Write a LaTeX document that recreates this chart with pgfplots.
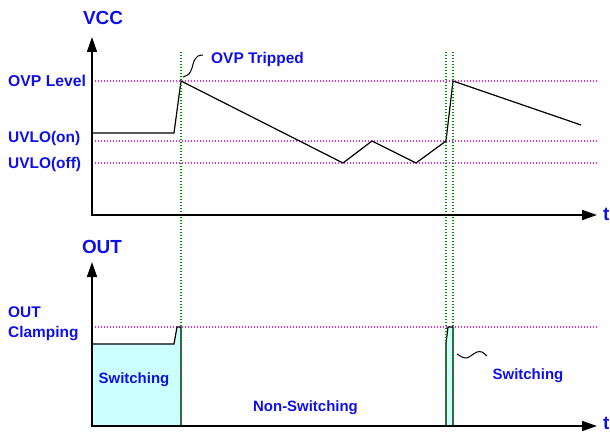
\documentclass[border=0pt]{standalone}
\usepackage{pgfplots}
\pgfplotsset{compat=1.18}
\usepackage{fontspec}
\setmainfont{Liberation Sans}
\usetikzlibrary{arrows.meta}
\definecolor{lblue}{RGB}{15,15,235}
\definecolor{mag}{RGB}{230,40,230}
\definecolor{grn}{RGB}{0,140,0}
\definecolor{cyanfill}{RGB}{204,255,255}
\tikzset{lab/.style={inner sep=0pt, text=lblue, font=\bfseries\fontsize{15.5}{18}\selectfont},
         big/.style={inner sep=0pt, text=lblue, font=\bfseries\fontsize{19}{22}\selectfont}}
\begin{document}
\begin{tikzpicture}
\begin{axis}[at={(0,0)},anchor=south west, scale only axis, width=610bp, height=433bp,
  xmin=0,xmax=610,ymin=0,ymax=433, y dir=reverse, hide axis, clip=false]
% reference levels
\addplot[mag, line width=1.2bp, dash pattern=on 1.2bp off 1.8bp] coordinates {(92,81) (598,81)};
\addplot[mag, line width=1.2bp, dash pattern=on 1.2bp off 1.8bp] coordinates {(92,141) (598,141)};
\addplot[mag, line width=1.2bp, dash pattern=on 1.2bp off 1.8bp] coordinates {(92,163) (598,163)};
\addplot[mag, line width=1.2bp, dash pattern=on 1.2bp off 1.8bp] coordinates {(92,327) (598,327)};
% OUT pulses
\addplot[fill=cyanfill, draw=black, line width=1.2bp] coordinates {(92,426) (92,344) (174,344) (177,327) (181,327) (181,426)} -- cycle;
\addplot[fill=cyanfill, draw=black, line width=1.2bp] coordinates {(446,426) (446,343) (448,327) (453,327) (453,426)} -- cycle;
% VCC trace
\addplot[black, line width=1.2bp] coordinates {(92,133) (174,133) (181,81) (343,163) (372,141) (416,163) (446,141) (453,81) (581,125)};
% green markers
\addplot[grn, line width=1.2bp, dash pattern=on 1.2bp off 1.8bp] coordinates {(181,52) (181,426)};
\addplot[grn, line width=1.2bp, dash pattern=on 1.2bp off 1.8bp] coordinates {(446,52) (446,426)};
\addplot[grn, line width=1.2bp, dash pattern=on 1.2bp off 1.8bp] coordinates {(453,52) (453,426)};
% axes
\addplot[black, line width=1.6bp, -{Triangle[width=10bp,length=15bp]}] coordinates {(92,215.8) (92,37)};
\addplot[black, line width=1.6bp, -{Triangle[width=10bp,length=15bp]}] coordinates {(91.2,215) (597,215)};
\addplot[black, line width=1.6bp, -{Triangle[width=10bp,length=15bp]}] coordinates {(92,426.8) (92,262)};
\addplot[black, line width=1.6bp, -{Triangle[width=10bp,length=15bp]}] coordinates {(91.2,426) (597,426)};
% squiggles
\addplot[black, line width=1bp, smooth] coordinates {(183,77) (189,74) (192,68) (194,61) (198,56) (203,55)};
\addplot[black, line width=1bp, smooth] coordinates {(457,354) (462,357) (467,358) (472,355) (477,352) (482,352) (487,356)};
% labels
\node[big, anchor=base] at (axis cs:103,25) {VCC};
\node[big, anchor=base] at (axis cs:102,253) {OUT};
\node[big, anchor=base east] at (axis cs:609.6,220) {t};
\node[big, anchor=base east] at (axis cs:609.6,429.5) {t};
\node[lab, anchor=base west, font=\bfseries\fontsize{15.8}{18}\selectfont] at (axis cs:8,87) {OVP Level};
\node[lab, anchor=base west] at (axis cs:8,142.5) {UVLO(on)};
\node[lab, anchor=base west] at (axis cs:8,168) {UVLO(off)};
\node[lab, anchor=base west] at (axis cs:211,64) {OVP Tripped};
\node[lab, anchor=base west] at (axis cs:8,317) {OUT};
\node[lab, anchor=base west] at (axis cs:8,337) {Clamping};
\node[lab, anchor=base, font=\bfseries\fontsize{15}{18}\selectfont] at (axis cs:134,383) {Switching};
\node[lab, anchor=base, font=\bfseries\fontsize{15}{18}\selectfont] at (axis cs:305.5,411) {Non-Switching};
\node[lab, anchor=base, font=\bfseries\fontsize{15}{18}\selectfont] at (axis cs:528,379) {Switching};
\end{axis}
\pgfresetboundingbox
\path[use as bounding box] (0,0) rectangle (610bp,433bp);
\end{tikzpicture}
\end{document}
